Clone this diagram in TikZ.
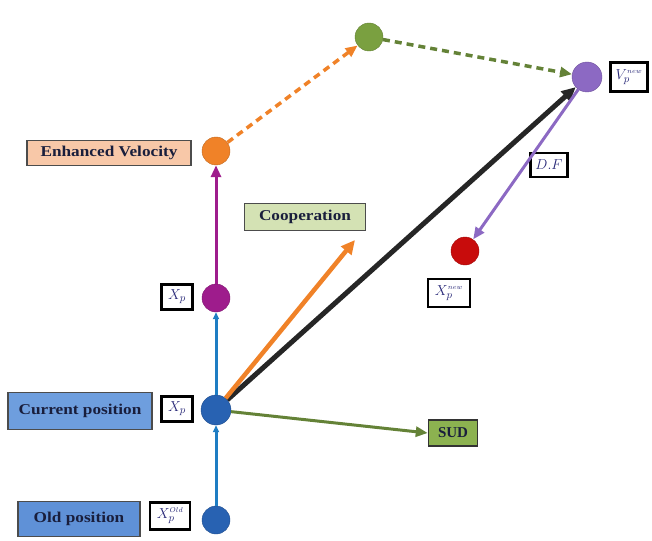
\documentclass[tikz,border=0pt]{standalone}
\usepackage{fontspec}
\setmainfont{Liberation Serif}
\usetikzlibrary{arrows.meta}
\definecolor{cblue}{RGB}{40,98,178}
\definecolor{lblue}{RGB}{30,125,195}
\definecolor{cpurple}{RGB}{158,28,140}
\definecolor{corange}{RGB}{240,130,40}
\definecolor{cgreen}{RGB}{122,160,64}
\definecolor{dgreen}{RGB}{100,130,55}
\definecolor{clav}{RGB}{140,105,195}
\definecolor{cred}{RGB}{200,12,12}
\definecolor{boxblue}{RGB}{110,158,222}
\definecolor{boxblue2}{RGB}{95,145,215}
\definecolor{boxpeach}{RGB}{248,200,168}
\definecolor{boxlg}{RGB}{212,226,180}
\definecolor{boxgreen}{RGB}{140,178,80}
\definecolor{txtblue}{RGB}{40,40,120}
\definecolor{lbltext}{RGB}{25,30,60}
\newcommand{\wide}[1]{\scalebox{1.15}[1]{#1}}
\tikzset{
  dot/.style={circle,minimum size=28pt,inner sep=0pt,draw=#1!80!black,line width=0.4pt,fill=#1},
  lbl/.style={draw=black!70,line width=1.5pt,font=\bfseries\fontsize{15}{16}\selectfont,text=lbltext,inner sep=0pt,minimum height=25pt},
  sym/.style={draw=black,line width=2.5pt,fill=white,inner sep=1pt,text=txtblue,font=\fontsize{15}{16}\selectfont,minimum width=31pt,minimum height=25pt},
  tip/.style={-{Triangle[length=12pt,width=10pt]}},
  smalltip/.style={-{Triangle[length=7pt,width=6pt]}}
}
\begin{document}
\begin{tikzpicture}[x=1pt,y=-1pt]
\useasboundingbox (0,0) rectangle (652,540);
% circles
\node[dot=cblue] (old) at (216,520) {};
\node[dot=cblue,minimum size=30pt] (cur) at (216,410) {};
\node[dot=cpurple] (xp) at (216,298) {};
\node[dot=corange] (ev) at (216,151) {};
\node[dot=cgreen] (gr) at (369,37) {};
\node[dot=clav,minimum size=30pt] (vn) at (587,77) {};
\node[dot=cred] (red) at (465,251) {};
\coordinate (coopend) at (355,240);
% labels
\node[lbl,fill=boxblue2,minimum width=122pt,minimum height=35pt] (oldl) at (79,519) {\wide{Old position}};
\node[sym,minimum width=40pt,minimum height=27pt] (xold) at (170,516) {$X_p^{\scriptscriptstyle Old}$};
\node[lbl,fill=boxblue,minimum width=144pt,minimum height=37pt] (curl) at (80,411) {\wide{Current position}};
\node[sym] (xcur) at (177,409) {$X_p$};
\node[sym] (xpl) at (177,297) {$X_p$};
\node[lbl,fill=boxpeach,minimum width=164pt] (evl) at (109,153) {\wide{Enhanced Velocity}};
\node[lbl,fill=boxlg,minimum width=121pt,minimum height=27pt] (coop) at (305,217) {\wide{Cooperation}};
\node[lbl,fill=boxgreen,minimum width=49pt,minimum height=26pt,draw=black!80] (sud) at (453,433) {SUD};
\node[sym,minimum width=37pt,minimum height=29pt] (vnl) at (629,77) {$V_p^{\scriptscriptstyle new}$};
\node[sym,minimum width=37pt,minimum height=24pt] (df) at (549,165) {$D.F$};
\node[sym,minimum width=42pt,minimum height=28pt] (xnew) at (449,293) {$X_p^{\scriptscriptstyle new}$};
% connectors
\draw[lblue,line width=3pt,smalltip] (old) -- (cur);
\draw[lblue,line width=3pt,smalltip] (cur) -- (xp);
\draw[cpurple,line width=3pt,tip] (xp) -- (ev);
\draw[corange,line width=3.5pt,dash pattern=on 7pt off 5pt,tip] (ev) -- (gr);
\draw[dgreen,line width=3.5pt,dash pattern=on 7pt off 5pt,tip] (gr) -- (vn);
\draw[black!85,line width=5pt,-{Triangle[length=14pt,width=13pt]}] (cur) -- (vn);
\draw[corange,line width=4.5pt,-{Triangle[length=14pt,width=13pt]}] (cur) -- (coopend);
\draw[dgreen,line width=3pt,tip] (cur) -- (sud.west);
\draw[clav,line width=3pt,tip] (vn) -- (red);
\end{tikzpicture}
\end{document}
